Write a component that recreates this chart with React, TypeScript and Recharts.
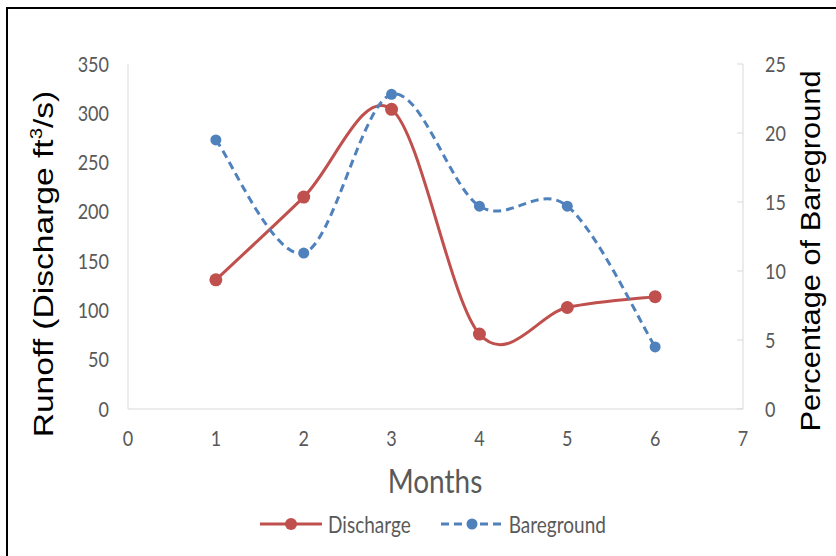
import { LineChart, Line, XAxis, YAxis, Legend } from 'recharts';

const months = [1, 2, 3, 4, 5, 6];
const discharge = [131, 215, 304, 76, 103, 114];
const bareground = [19.5, 11.3, 22.8, 14.7, 14.7, 4.5];
const xTicks = [0, 1, 2, 3, 4, 5, 6, 7];
const leftTicks = [0, 50, 100, 150, 200, 250, 300, 350];
const rightTicks = [0, 5, 10, 15, 20, 25];

const data = months.map((m, i) => ({ month: m, discharge: discharge[i], bareground: bareground[i] }));

const RED = '#C0504D';
const BLUE = '#4F81BD';
const GREY = '#595959';
const AXIS = '#D9D9D9';
const THIN = "Lato, 'Open Sans', sans-serif";
const ARIAL = "'Liberation Sans', Arial, sans-serif";

// Excel-style smoothed line: bezier with control points at +/- (next - prev) / 6
function excelCurve(context: any) {
    let pts: number[][] = [];
    return {
        areaStart() {},
        areaEnd() {},
        lineStart() { pts = []; },
        point(x: number, y: number) { pts.push([+x, +y]); },
        lineEnd() {
            if (!pts.length) return;
            context.moveTo(pts[0][0], pts[0][1]);
            for (let i = 0; i < pts.length - 1; i++) {
                const p0 = pts[i - 1] || pts[i];
                const p1 = pts[i];
                const p2 = pts[i + 1];
                const p3 = pts[i + 2] || pts[i + 1];
                context.bezierCurveTo(
                    p1[0] + (p2[0] - p0[0]) / 6, p1[1] + (p2[1] - p0[1]) / 6,
                    p2[0] - (p3[0] - p1[0]) / 6, p2[1] - (p3[1] - p1[1]) / 6,
                    p2[0], p2[1]
                );
            }
        },
    };
}

// the source picture is a bit stretched vertically, so the small text is drawn tall
function makeTick(dy: string) {
    return (props: any) => {
        const { x, y, payload, textAnchor } = props;
        return (
            <g transform={`translate(${x},${y}) scale(1,1.2)`}>
                <text x={0} y={0} dy={dy} textAnchor={textAnchor} fill={GREY} fontSize={18} fontFamily={THIN}>
                    {payload.value}
                </text>
            </g>
        );
    };
}

function LegendBox() {
    return (
        <div style={{ display: 'flex', justifyContent: 'center', alignItems: 'center', fontFamily: THIN, fontSize: 19, color: GREY, marginLeft: 30 }}>
            <svg width={62} height={16}>
                <line x1={0} y1={8} x2={62} y2={8} stroke={RED} strokeWidth={3} />
                <circle cx={31} cy={8} r={6} fill={RED} />
            </svg>
            <span style={{ marginLeft: 6, marginRight: 30, display: 'inline-block', transform: 'scaleY(1.2)' }}>Discharge</span>
            <svg width={62} height={16}>
                <line x1={0} y1={8} x2={62} y2={8} stroke={BLUE} strokeWidth={3} strokeDasharray="8 5" />
                <circle cx={31} cy={8} r={5.5} fill={BLUE} />
            </svg>
            <span style={{ marginLeft: 6, display: 'inline-block', transform: 'scaleY(1.2)' }}>Bareground</span>
        </div>
    );
}

export default function App() {
    return (
        <div style={{ position: 'absolute', left: 0, top: 0, width: 836, height: 556, background: '#fff' }}>
            <div style={{ position: 'absolute', left: 6, top: 7, right: 0, bottom: 0, borderTop: '2px solid #000', borderLeft: '2px solid #000' }} />
            <LineChart width={836} height={556} data={data} margin={{ top: 64, right: 0, bottom: 0, left: 0 }} style={{ position: 'absolute', left: 0, top: 0 }}>
                <XAxis
                    dataKey="month"
                    type="number"
                    domain={[0, 7]}
                    ticks={xTicks}
                    height={147}
                    stroke={AXIS}
                    tickLine={false}
                    tickSize={0}
                    tickMargin={21}
                    tick={makeTick('0.72em')}
                    label={{
                        content: () => (
                            <g transform="translate(435,493) scale(1,1.2)">
                                <text x={0} y={0} textAnchor="middle" fill={GREY} fontSize={28} fontFamily={THIN}>Months</text>
                            </g>
                        ),
                    }}
                />
                <YAxis
                    yAxisId="left"
                    domain={[0, 350]}
                    ticks={leftTicks}
                    width={128}
                    stroke={AXIS}
                    tickLine={false}
                    tickSize={0}
                    tickMargin={19}
                    tick={makeTick('0.35em')}
                    label={{
                        content: () => (
                            <g transform="translate(53,264) rotate(-90) scale(1.2,1)">
                                <text x={0} y={0} textAnchor="middle" fontSize={28} fontFamily={ARIAL} fill="#000">
                                    Runoff (Discharge ft<tspan fontSize={17} dy={-11}>3</tspan><tspan dy={11}>/s)</tspan>
                                </text>
                            </g>
                        ),
                    }}
                />
                <YAxis
                    yAxisId="right"
                    orientation="right"
                    domain={[0, 25]}
                    ticks={rightTicks}
                    width={93}
                    stroke={AXIS}
                    tickSize={-6}
                    tickMargin={28}
                    tick={makeTick('0.35em')}
                    label={{
                        content: () => (
                            <g transform="translate(820,251) rotate(-90) scale(1.1,1)">
                                <text x={0} y={0} textAnchor="middle" fontSize={28} fontFamily={ARIAL} fill="#000">
                                    Percentage of Bareground
                                </text>
                            </g>
                        ),
                    }}
                />
                <Legend layout="horizontal" verticalAlign="middle" align="center" wrapperStyle={{ top: 512, left: 0, width: 836 }} content={() => <LegendBox />} />
                <Line
                    yAxisId="left"
                    dataKey="discharge"
                    type={excelCurve as any}
                    stroke={RED}
                    strokeWidth={3}
                    dot={{ r: 6.5, fill: RED, stroke: RED, strokeWidth: 0 }}
                    isAnimationActive={false}
                />
                <Line
                    yAxisId="right"
                    dataKey="bareground"
                    type={excelCurve as any}
                    stroke={BLUE}
                    strokeWidth={3}
                    strokeDasharray="8 5"
                    dot={{ r: 5.5, fill: BLUE, stroke: BLUE, strokeWidth: 0 }}
                    isAnimationActive={false}
                />
            </LineChart>
        </div>
    );
}
